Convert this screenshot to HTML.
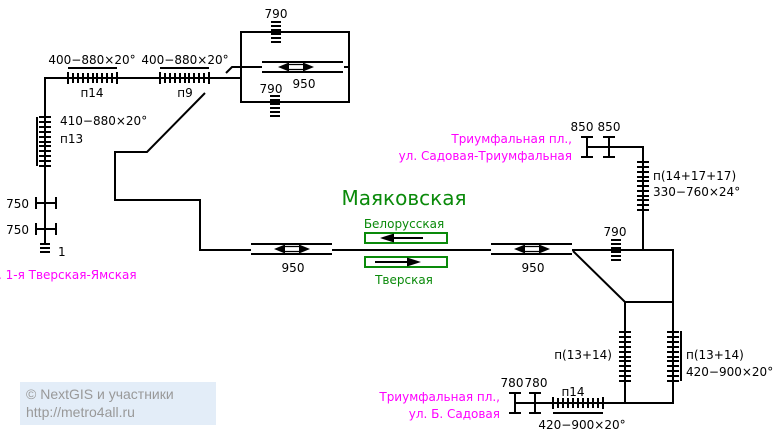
<!DOCTYPE html>
<html><head><meta charset="utf-8"><style>
html,body{margin:0;padding:0;background:#fff;}
svg{display:block;}
text{font-family:"DejaVu Sans","Liberation Sans",sans-serif;font-size:12px;fill:#000;}
.m{fill:#ff00ff;}
.g{fill:#0a8a0a;}
</style></head><body>
<svg id="s" width="773" height="437" viewBox="0 0 773 437" xmlns="http://www.w3.org/2000/svg">
<g stroke="#000" stroke-width="2" fill="none" id="lines">
<polyline points="45,245 45,78 240,78"/>
<rect x="241" y="32" width="108" height="70"/>
<line x1="262" y1="62" x2="343" y2="62"/>
<line x1="262" y1="72" x2="343" y2="72"/>
<polyline points="226,73 232,67 262,67"/>
<line x1="344" y1="67" x2="349" y2="67"/>
<polyline points="205,93 147,152 115,152 115,200 200,200 200,250 251,250"/>
<line x1="251" y1="244" x2="332" y2="244"/>
<line x1="251" y1="254" x2="332" y2="254"/>
<line x1="332" y1="250" x2="491" y2="250"/>
<line x1="491" y1="244" x2="572" y2="244"/>
<line x1="491" y1="254" x2="572" y2="254"/>
<polyline points="572,250 673,250 673,403 515,403"/>
<polyline points="573,251 625,302 673,302"/>
<line x1="625" y1="302" x2="625" y2="403"/>
<polyline points="587,147 643,147 643,250"/>
<line x1="587" y1="137" x2="587" y2="157"/><line x1="581" y1="137" x2="593" y2="137"/><line x1="581" y1="157" x2="593" y2="157"/>
<line x1="609" y1="137" x2="609" y2="157"/><line x1="603" y1="137" x2="615" y2="137"/><line x1="603" y1="157" x2="615" y2="157"/>
<line x1="515" y1="393" x2="515" y2="413"/><line x1="509" y1="393" x2="521" y2="393"/><line x1="509" y1="413" x2="521" y2="413"/>
<line x1="535" y1="393" x2="535" y2="413"/><line x1="529" y1="393" x2="541" y2="393"/><line x1="529" y1="413" x2="541" y2="413"/>
<line x1="36" y1="203" x2="56" y2="203"/><line x1="36" y1="197" x2="36" y2="209"/><line x1="56" y1="197" x2="56" y2="209"/>
<line x1="36" y1="229" x2="56" y2="229"/><line x1="36" y1="223" x2="36" y2="235"/><line x1="56" y1="223" x2="56" y2="235"/>
<line x1="37" y1="117" x2="37" y2="166"/>
<line x1="68" y1="68" x2="117" y2="68"/>
<line x1="160" y1="68" x2="209" y2="68"/>
<line x1="681" y1="331" x2="681" y2="381"/>
<line x1="553" y1="413" x2="603" y2="413"/>
<rect x="365" y="233" width="82" height="10" stroke="#0a8a0a"/>
<rect x="365" y="257" width="82" height="10" stroke="#0a8a0a"/>
<line x1="392" y1="238" x2="423" y2="238" stroke-width="2"/>
<line x1="375" y1="262" x2="410" y2="262" stroke-width="2"/>
</g>
<g id="ticks" stroke="#000" stroke-width="2"></g>
<g fill="#000">
<polygon points="380,238 394,233.5 394,242.5"/>
<polygon points="421,262 407,257.5 407,266.5"/>
</g>
<g id="arrows"></g>
<rect x="20" y="382" width="196" height="43" fill="#e3edf8"/>
<text x="26" y="399" style="font-family:'Liberation Sans',sans-serif;font-size:14px;fill:#999">© NextGIS и участники</text>
<text x="26" y="417" style="font-family:'Liberation Sans',sans-serif;font-size:14px;fill:#999">http://metro4all.ru</text>

<text x="404" y="205" text-anchor="middle" class="g" style="font-size:20px">Маяковская</text>
<text x="404" y="228" text-anchor="middle" class="g">Белорусская</text>
<text x="404" y="284" text-anchor="middle" class="g">Тверская</text>

<text x="92" y="64" text-anchor="middle">400−880×20°</text>
<text x="92" y="97" text-anchor="middle">п14</text>
<text x="185" y="64" text-anchor="middle">400−880×20°</text>
<text x="185" y="97" text-anchor="middle">п9</text>
<text x="60" y="125">410−880×20°</text>
<text x="60" y="143">п13</text>
<text x="29" y="208" text-anchor="end">750</text>
<text x="29" y="234" text-anchor="end">750</text>
<text x="58" y="256">1</text>
<text x="-2" y="279" class="m">. 1-я Тверская-Ямская</text>
<text x="276" y="18" text-anchor="middle">790</text>
<text x="271" y="93" text-anchor="middle">790</text>
<text x="304" y="88" text-anchor="middle">950</text>
<text x="293" y="272" text-anchor="middle">950</text>
<text x="533" y="272" text-anchor="middle">950</text>
<text x="615" y="236" text-anchor="middle">790</text>
<text x="582" y="131" text-anchor="middle">850</text>
<text x="609" y="131" text-anchor="middle">850</text>
<text x="572" y="143" text-anchor="end" class="m">Триумфальная пл.,</text>
<text x="572" y="160" text-anchor="end" class="m">ул. Садовая-Триумфальная</text>
<text x="653" y="180">п(14+17+17)</text>
<text x="653" y="196">330−760×24°</text>
<text x="612" y="359" text-anchor="end">п(13+14)</text>
<text x="686" y="359">п(13+14)</text>
<text x="686" y="376">420−900×20°</text>
<text x="512" y="387" text-anchor="middle">780</text>
<text x="536" y="387" text-anchor="middle">780</text>
<text x="573" y="396" text-anchor="middle">п14</text>
<text x="582" y="429" text-anchor="middle">420−900×20°</text>
<text x="500" y="401" text-anchor="end" class="m">Триумфальная пл.,</text>
<text x="500" y="418" text-anchor="end" class="m">ул. Б. Садовая</text>
</svg>
<script>
var T=document.getElementById('ticks'),A=document.getElementById('arrows'),NS='http://www.w3.org/2000/svg';
function L(x1,y1,x2,y2,w){var l=document.createElementNS(NS,'line');l.setAttribute('x1',x1);l.setAttribute('y1',y1);l.setAttribute('x2',x2);l.setAttribute('y2',y2);if(w)l.setAttribute('stroke-width',w);T.appendChild(l);}
function H(x1,x2,y,n){L(x1,y-6,x1,y+6);L(x2,y-6,x2,y+6);for(var i=0;i<n;i++){var x=Math.round(x1+5+i*(x2-x1-10)/(n-1));L(x,y-5,x,y+5);}}
function V(x,y1,y2,n){L(x-6,y1,x+6,y1);L(x-6,y2,x+6,y2);for(var i=0;i<n;i++){var y=Math.round(y1+5+i*(y2-y1-10)/(n-1));L(x-6,y,x+6,y);}}
function S(x,y1,y2,n){for(var i=0;i<n;i++){var y=Math.round(y1+i*(y2-y1)/(n-1));L(x-5,y,x+5,y,2);}}
H(68,117,78,9);H(160,209,78,9);H(553,603,403,9);
V(45,117,166,9);V(643,162,210,9);V(625,332,381,9);V(673,332,381,9);
S(276,22,42,6);S(275,96,116,6);S(616,240,260,6);S(45,244,252,3);
function AR(cx,cy){var p=document.createElementNS(NS,'path');
p.setAttribute('d','M'+(cx-18)+','+cy+' L'+(cx-7)+','+(cy-4.5)+' L'+(cx-7)+','+(cy+4.5)+'Z M'+(cx+18)+','+cy+' L'+(cx+7)+','+(cy-4.5)+' L'+(cx+7)+','+(cy+4.5)+'Z');
p.setAttribute('fill','#000');A.appendChild(p);
var q=document.createElementNS(NS,'path');q.setAttribute('d','M'+(cx-8)+','+(cy-2.5)+' L'+(cx+8)+','+(cy-2.5)+' M'+(cx-8)+','+(cy+2.5)+' L'+(cx+8)+','+(cy+2.5));
q.setAttribute('stroke','#000');q.setAttribute('fill','none');q.setAttribute('stroke-width','1.2');A.appendChild(q);}
AR(296,67);AR(292,249);AR(532,249);
</script>
</body></html>
